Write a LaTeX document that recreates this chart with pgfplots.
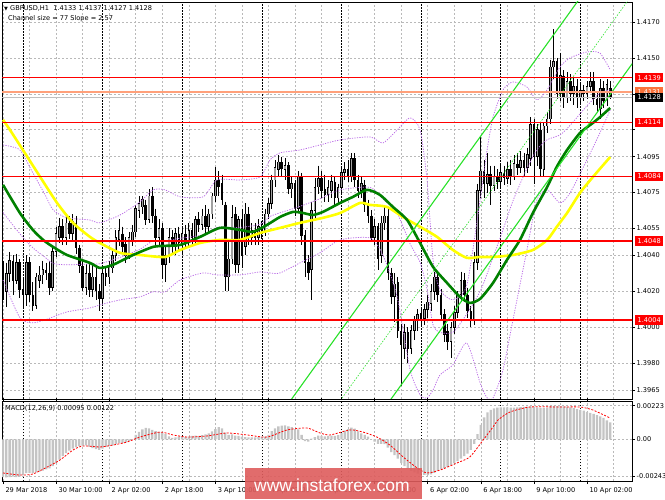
\documentclass[border=0pt]{standalone}
\usepackage{fontspec}
\setmainfont{DejaVu Sans}
\newfontfamily\wmfont{Liberation Sans}
\usepackage{pgfplots}
\usepackage{pgfplotstable}
\pgfplotsset{compat=1.18}

\definecolor{chan}{RGB}{40,225,40}
\definecolor{magreen}{RGB}{0,128,0}
\definecolor{mayellow}{RGB}{255,255,0}
\definecolor{bbviolet}{RGB}{185,105,230}
\definecolor{lvlred}{RGB}{255,0,0}
\definecolor{asksalmon}{RGB}{255,160,122}
\definecolor{askbox}{RGB}{250,115,60}
\definecolor{bidsilver}{RGB}{192,192,192}
\definecolor{bullgray}{RGB}{160,160,160}
\definecolor{gridgray}{RGB}{185,185,185}
\definecolor{histgray}{RGB}{196,196,196}
\definecolor{wmred}{RGB}{222,92,92}

% GBPUSD H1 candles, bar 0 = 29 Mar 18:00
\pgfplotstableread{
i o h l c
0 1.4034 1.4037 1.4015 1.4020
1 1.4020 1.4036 1.4011 1.4030
2 1.4030 1.4042 1.4025 1.4037
3 1.4037 1.4040 1.4018 1.4026
4 1.4026 1.4041 1.4024 1.4036
5 1.4036 1.4038 1.4016 1.4021
6 1.4021 1.4028 1.4010 1.4018
7 1.4018 1.4040 1.4012 1.4036
8 1.4036 1.4039 1.4014 1.4018
9 1.4018 1.4025 1.4009 1.4012
10 1.4012 1.4030 1.4010 1.4028
11 1.4026 1.4034 1.4022 1.4029
12 1.4029 1.4037 1.4024 1.4032
13 1.4032 1.4036 1.4026 1.4030
14 1.4030 1.4037 1.4018 1.4022
15 1.4022 1.4045 1.4020 1.4042
16 1.4042 1.4056 1.4039 1.4052
17 1.4050 1.4061 1.4047 1.4056
18 1.4056 1.4060 1.4046 1.4050
19 1.4050 1.4063 1.4046 1.4058
20 1.4058 1.4062 1.4049 1.4052
21 1.4052 1.4063 1.4048 1.4059
22 1.4058 1.4062 1.4041 1.4044
23 1.4044 1.4046 1.4030 1.4034
24 1.4034 1.4037 1.4020 1.4022
25 1.4022 1.4035 1.4018 1.4030
26 1.4030 1.4036 1.4017 1.4021
27 1.4021 1.4035 1.4017 1.4028
28 1.4028 1.4033 1.4015 1.4020
29 1.4020 1.4024 1.4009 1.4016
30 1.4016 1.4033 1.4012 1.4030
31 1.4030 1.4034 1.4023 1.4028
32 1.4028 1.4037 1.4024 1.4034
33 1.4033 1.4043 1.4030 1.4040
34 1.4040 1.4054 1.4037 1.4050
35 1.4049 1.4060 1.4045 1.4054
36 1.4052 1.4056 1.4041 1.4045
37 1.4046 1.4050 1.4036 1.4040
38 1.4040 1.4053 1.4038 1.4050
39 1.4048 1.4057 1.4045 1.4053
40 1.4053 1.4068 1.4050 1.4066
41 1.4065 1.4073 1.4061 1.4069
42 1.4067 1.4073 1.4063 1.4071
43 1.4068 1.4071 1.4057 1.4060
44 1.4060 1.4077 1.4058 1.4073
45 1.4073 1.4078 1.4058 1.4062
46 1.4062 1.4066 1.4046 1.4050
47 1.4050 1.4060 1.4045 1.4055
48 1.4055 1.4058 1.4027 1.4035
49 1.4035 1.4045 1.4025 1.4040
50 1.4040 1.4055 1.4036 1.4050
51 1.4050 1.4054 1.4040 1.4045
52 1.4045 1.4055 1.4040 1.4052
53 1.4052 1.4056 1.4043 1.4047
54 1.4046 1.4056 1.4040 1.4052
55 1.4052 1.4057 1.4044 1.4048
56 1.4048 1.4058 1.4045 1.4054
57 1.4054 1.4058 1.4046 1.4050
58 1.4050 1.4062 1.4047 1.4060
59 1.4060 1.4064 1.4053 1.4057
60 1.4057 1.4066 1.4054 1.4062
61 1.4062 1.4068 1.4052 1.4056
62 1.4056 1.4066 1.4053 1.4063
63 1.4063 1.4075 1.4060 1.4073
64 1.4073 1.4089 1.4070 1.4082
65 1.4082 1.4087 1.4073 1.4078
66 1.4080 1.4085 1.4068 1.4071
67 1.4068 1.4070 1.4020 1.4028
68 1.4028 1.4048 1.4020 1.4038
69 1.4038 1.4068 1.4035 1.4061
70 1.4063 1.4067 1.4030 1.4035
71 1.4035 1.4062 1.4030 1.4060
72 1.4060 1.4066 1.4033 1.4040
73 1.4045 1.4069 1.4040 1.4063
74 1.4063 1.4067 1.4046 1.4050
75 1.4050 1.4058 1.4046 1.4054
76 1.4054 1.4058 1.4046 1.4050
77 1.4050 1.4060 1.4046 1.4056
78 1.4056 1.4059 1.4049 1.4053
79 1.4054 1.4066 1.4051 1.4063
80 1.4063 1.4072 1.4060 1.4069
81 1.4069 1.4085 1.4066 1.4082
82 1.4082 1.4093 1.4078 1.4089
83 1.4088 1.4096 1.4084 1.4092
84 1.4092 1.4095 1.4084 1.4088
85 1.4088 1.4094 1.4082 1.4090
86 1.4090 1.4092 1.4074 1.4077
87 1.4077 1.4084 1.4072 1.4080
88 1.4080 1.4082 1.4062 1.4066
89 1.4066 1.4087 1.4064 1.4084
90 1.4084 1.4086 1.4046 1.4051
91 1.4051 1.4054 1.4028 1.4036
92 1.4036 1.4040 1.4026 1.4030
93 1.4032 1.4070 1.4015 1.4065
94 1.4065 1.4083 1.4060 1.4078
95 1.4078 1.4090 1.4074 1.4083
96 1.4083 1.4087 1.4072 1.4076
97 1.4077 1.4085 1.4070 1.4074
98 1.4074 1.4082 1.4070 1.4078
99 1.4076 1.4085 1.4072 1.4081
100 1.4081 1.4084 1.4068 1.4072
101 1.4072 1.4080 1.4069 1.4078
102 1.4078 1.4089 1.4075 1.4086
103 1.4086 1.4092 1.4082 1.4088
104 1.4088 1.4093 1.4081 1.4084
105 1.4084 1.4097 1.4081 1.4094
106 1.4094 1.4097 1.4078 1.4082
107 1.4082 1.4085 1.4072 1.4076
108 1.4076 1.4084 1.4072 1.4080
109 1.4079 1.4082 1.4064 1.4068
110 1.4068 1.4071 1.4058 1.4062
111 1.4062 1.4065 1.4048 1.4050
112 1.4050 1.4060 1.4046 1.4056
113 1.4056 1.4058 1.4032 1.4038
114 1.4040 1.4062 1.4036 1.4058
115 1.4058 1.4068 1.4054 1.4062
116 1.4062 1.4066 1.4026 1.4030
117 1.4030 1.4033 1.4013 1.4017
118 1.4017 1.4030 1.4003 1.4024
119 1.4025 1.4028 1.3994 1.3998
120 1.3998 1.4002 1.3967 1.3990
121 1.3988 1.4002 1.3982 1.3997
122 1.3997 1.4000 1.3980 1.3988
123 1.3988 1.4001 1.3985 1.3998
124 1.3998 1.4006 1.3993 1.4004
125 1.4004 1.4010 1.3998 1.4007
126 1.4008 1.4011 1.4000 1.4004
127 1.4005 1.4013 1.4001 1.4010
128 1.4010 1.4018 1.4005 1.4014
129 1.4013 1.4024 1.4009 1.4020
130 1.4020 1.4031 1.4015 1.4028
131 1.4028 1.4030 1.4014 1.4018
132 1.4018 1.4021 1.4004 1.4007
133 1.4007 1.4010 1.3992 1.3996
134 1.3998 1.4002 1.3987 1.3992
135 1.3992 1.4003 1.3983 1.4000
136 1.4000 1.4012 1.3996 1.4008
137 1.4008 1.4020 1.4005 1.4018
138 1.4018 1.4031 1.4014 1.4026
139 1.4026 1.4030 1.4014 1.4018
140 1.4018 1.4022 1.4005 1.4009
141 1.4009 1.4012 1.4000 1.4004
142 1.4004 1.4042 1.4001 1.4036
143 1.4036 1.4080 1.4032 1.4076
144 1.4076 1.4106 1.4072 1.4087
145 1.4087 1.4093 1.4072 1.4080
146 1.4080 1.4097 1.4075 1.4085
147 1.4085 1.4090 1.4068 1.4079
148 1.4079 1.4090 1.4076 1.4084
149 1.4084 1.4088 1.4077 1.4081
150 1.4081 1.4091 1.4077 1.4086
151 1.4086 1.4090 1.4079 1.4083
152 1.4083 1.4092 1.4080 1.4088
153 1.4088 1.4093 1.4079 1.4084
154 1.4084 1.4096 1.4082 1.4091
155 1.4091 1.4097 1.4085 1.4089
156 1.4089 1.4098 1.4086 1.4093
157 1.4093 1.4097 1.4084 1.4089
158 1.4089 1.4100 1.4086 1.4096
159 1.4094 1.4117 1.4090 1.4113
160 1.4113 1.4116 1.4080 1.4095
161 1.4095 1.4113 1.4090 1.4110
162 1.4110 1.4114 1.4084 1.4088
163 1.4088 1.4114 1.4084 1.4112
164 1.4112 1.4120 1.4108 1.4116
165 1.4116 1.4149 1.4113 1.4145
166 1.4145 1.4166 1.4138 1.4148
167 1.4148 1.4150 1.4127 1.4130
168 1.4130 1.4153 1.4126 1.4140
169 1.4140 1.4143 1.4122 1.4128
170 1.4128 1.4142 1.4125 1.4137
171 1.4137 1.4141 1.4126 1.4130
172 1.4130 1.4139 1.4124 1.4134
173 1.4134 1.4138 1.4122 1.4128
174 1.4128 1.4136 1.4125 1.4132
175 1.4132 1.4135 1.4126 1.4130
176 1.4130 1.4137 1.4127 1.4134
177 1.4134 1.4142 1.4131 1.4137
178 1.4137 1.4142 1.4124 1.4127
179 1.4127 1.4131 1.4120 1.4124
180 1.4122 1.4138 1.4116 1.4133
181 1.4133 1.4137 1.4122 1.4126
182 1.4126 1.4138 1.4123 1.4135
183 1.4133 1.4137 1.4127 1.4128
}\candles

% MACD(12,26,9) main line, drawn as histogram
\pgfplotstableread{
i v
0 -0.00250
1 -0.00252
2 -0.00250
3 -0.00248
4 -0.00250
5 -0.00248
6 -0.00238
7 -0.00225
8 -0.00222
9 -0.00225
10 -0.00220
11 -0.00215
12 -0.00208
13 -0.00200
14 -0.00192
15 -0.00178
16 -0.00160
17 -0.00135
18 -0.00112
19 -0.00092
20 -0.00075
21 -0.00062
22 -0.00052
23 -0.00046
24 -0.00042
25 -0.00040
26 -0.00048
27 -0.00058
28 -0.00065
29 -0.00070
30 -0.00062
31 -0.00052
32 -0.00045
33 -0.00040
34 -0.00032
35 -0.00026
36 -0.00024
37 -0.00020
38 -0.00010
39 0.00002
40 0.00030
41 0.00050
42 0.00065
43 0.00075
44 0.00072
45 0.00062
46 0.00055
47 0.00050
48 0.00042
49 0.00035
50 0.00020
51 0.00010
52 0.00012
53 0.00018
54 0.00020
55 0.00015
56 0.00018
57 0.00022
58 0.00025
59 0.00022
60 0.00028
61 0.00032
62 0.00040
63 0.00052
64 0.00068
65 0.00080
66 0.00072
67 0.00045
68 0.00030
69 0.00032
70 0.00025
71 0.00022
72 0.00018
73 0.00015
74 0.00012
75 0.00012
76 0.00013
77 0.00015
78 0.00014
79 0.00018
80 0.00030
81 0.00055
82 0.00072
83 0.00085
84 0.00090
85 0.00092
86 0.00085
87 0.00080
88 0.00068
89 0.00065
90 0.00030
91 -0.00012
92 -0.00015
93 0.00005
94 0.00015
95 0.00025
96 0.00022
97 0.00020
98 0.00022
99 0.00025
100 0.00022
101 0.00028
102 0.00042
103 0.00058
104 0.00068
105 0.00078
106 0.00070
107 0.00052
108 0.00040
109 0.00030
110 0.00018
111 0.00002
112 -0.00015
113 -0.00030
114 -0.00030
115 -0.00032
116 -0.00055
117 -0.00085
118 -0.00105
119 -0.00128
120 -0.00158
121 -0.00178
122 -0.00195
123 -0.00210
124 -0.00220
125 -0.00228
126 -0.00232
127 -0.00236
128 -0.00238
129 -0.00232
130 -0.00222
131 -0.00210
132 -0.00200
133 -0.00192
134 -0.00182
135 -0.00170
136 -0.00158
137 -0.00145
138 -0.00128
139 -0.00112
140 -0.00095
141 -0.00070
142 -0.00030
143 0.00035
144 0.00095
145 0.00145
146 0.00178
147 0.00195
148 0.00205
149 0.00210
150 0.00212
151 0.00212
152 0.00212
153 0.00210
154 0.00210
155 0.00212
156 0.00214
157 0.00215
158 0.00216
159 0.00218
160 0.00215
161 0.00212
162 0.00208
163 0.00208
164 0.00210
165 0.00218
166 0.00222
167 0.00220
168 0.00220
169 0.00218
170 0.00216
171 0.00212
172 0.00206
173 0.00200
174 0.00195
175 0.00190
176 0.00182
177 0.00175
178 0.00168
179 0.00160
180 0.00152
181 0.00142
182 0.00125
183 0.00112
}\macdhist

\pgfplotsset{
  mt4/.style={
    scale only axis, width=630pt,
    xmin=-0.301, xmax=189.57,
    scaled x ticks=false, scaled y ticks=false,
    axis line style={black, line width=0.6pt},
    xtick={0,16,...,176}, minor xtick={8,24,...,184},
    xmajorgrids, xminorgrids, ymajorgrids,
    major grid style={gridgray, dash pattern=on 2pt off 2pt, line width=0.5pt},
    minor grid style={gridgray, dash pattern=on 2pt off 2pt, line width=0.5pt},
    ytick pos=right, yticklabel pos=right,
    tick align=outside, major tick length=3pt, minor tick length=0pt,
    tick style={black, line width=0.5pt},
    ticklabel style={font=\fontsize{6.6}{7}\selectfont},
    yticklabel style={anchor=west, inner sep=0pt, xshift=1.5pt},
    clip mode=individual,
    extra x ticks={6,30,54,78,102,126,150,174},
    extra x tick labels={},
    extra x tick style={xmajorgrids=true, major tick length=0pt,
      major grid style={black, dash pattern=on 1.5pt off 1.5pt, line width=0.6pt}},
  },
  candle/.style={draw=none, mark=none, forget plot,
    error bars/.cd, y dir=minus, y explicit, error mark=none},
}
\tikzset{
  lbl/.style={anchor=west, xshift=3pt, text=white, inner sep=0pt,
    minimum height=9.5pt, minimum width=28pt, font=\fontsize{6.6}{7}\selectfont},
}

\begin{document}
\begin{tikzpicture}
\useasboundingbox (0,0) rectangle (665pt,499pt);

% ---------- price panel ----------
\begin{axis}[mt4, at={(2pt,100pt)}, anchor=south west, height=397pt,
  ymin=1.395998, ymax=1.418114,
  ytick={1.3965,1.3980,1.4000,1.4020,1.4040,1.4055,1.4075,1.4095,1.4110,1.4130,1.4150,1.4170},
  yticklabels={1.3965,1.3980,1.4000,1.4020,1.4040,1.4055,1.4075,1.4095,,,1.4150,1.4170},
  xticklabels={}, xtick style={draw=none},
]
% candle wicks
\addplot[candle, error bar style={draw=black, line width=0.75pt}]
  table[x=i, y=h, y error minus expr={\thisrow{h}-\thisrow{l}}] {\candles};
% bearish bodies
\addplot[candle, error bar style={draw=black, line width=2.6pt}]
  table[x=i, y expr={\thisrow{c}<\thisrow{o} ? \thisrow{o}+0.00001 : nan},
        y error minus expr={\thisrow{o}-\thisrow{c}+0.00002}] {\candles};
% bullish bodies: outline, then fill
\addplot[candle, error bar style={draw=black, line width=2.6pt}]
  table[x=i, y expr={\thisrow{c}>=\thisrow{o} ? \thisrow{c}+0.00002 : nan},
        y error minus expr={\thisrow{c}-\thisrow{o}+0.00004}] {\candles};
\addplot[candle, error bar style={draw=bullgray, line width=1.2pt}]
  table[x=i, y expr={\thisrow{c}-\thisrow{o}>0.00010 ? \thisrow{c}-0.00002 : nan},
        y error minus expr={\thisrow{c}-\thisrow{o}-0.00004}] {\candles};

% Bollinger bands (upper, middle, lower)
\addplot[bbviolet, line width=0.75pt, dash pattern=on 1.2pt off 1.3pt, smooth, tension=0.4] coordinates {
(0,1.41015)(5.1,1.40987)(9.0,1.40859)(12.7,1.40737)(15.1,1.40653)(19.3,1.40609)(26.2,1.40597)(29.2,1.40581)
(35.3,1.40625)(41.3,1.40698)(45.2,1.40765)(48.8,1.40765)(53.4,1.40726)(60.3,1.40726)(64.5,1.40820)(71.4,1.40820)
(77.5,1.40837)(80.5,1.40932)(83.5,1.40971)(89.5,1.40987)(95.5,1.41015)(101.6,1.41043)(110.6,1.41060)(114.5,1.41026)
(118.8,1.41099)(122.7,1.41166)(125.7,1.41099)(127.8,1.40820)(129.6,1.40375)(131.7,1.40208)(135.6,1.40152)(139.8,1.40235)
(143.8,1.40709)(145.9,1.40987)(147.7,1.41171)(150.7,1.41322)(153.7,1.41366)(157.9,1.41338)(160.9,1.41266)(164.0,1.41322)
(167.9,1.41450)(170.9,1.41500)(176.0,1.41533)(179.9,1.41527)(183,1.41433)};
\addplot[bbviolet, line width=0.75pt, dash pattern=on 1.2pt off 1.3pt, smooth, tension=0.4] coordinates {
(0,1.40639)(5.1,1.40520)(9.0,1.40442)(12.7,1.40389)(15.1,1.40355)(19.3,1.40347)(26.2,1.40352)(29.2,1.40353)
(35.3,1.40389)(41.3,1.40434)(45.2,1.40481)(48.8,1.40481)(53.4,1.40495)(60.3,1.40514)(64.5,1.40556)(71.4,1.40556)
(77.5,1.40573)(80.5,1.40617)(83.5,1.40637)(89.5,1.40673)(95.5,1.40715)(101.6,1.40765)(110.6,1.40779)(114.5,1.40714)
(118.8,1.40634)(122.7,1.40464)(125.7,1.40361)(127.8,1.40213)(129.6,1.40013)(131.7,1.39971)(135.6,1.39971)(139.8,1.40074)
(143.8,1.40199)(145.9,1.40297)(147.7,1.40389)(150.7,1.40542)(153.7,1.40704)(157.9,1.40884)(160.9,1.40988)(164.0,1.41044)
(167.9,1.41071)(170.9,1.41124)(176.0,1.41233)(179.9,1.41305)(183,1.41322)};
\addplot[bbviolet, line width=0.75pt, dash pattern=on 1.2pt off 1.3pt, smooth, tension=0.4] coordinates {
(0,1.40263)(5.1,1.40052)(9.0,1.40024)(12.7,1.40041)(15.1,1.40057)(19.3,1.40085)(26.2,1.40107)(29.2,1.40124)
(35.3,1.40152)(41.3,1.40169)(45.2,1.40197)(48.8,1.40197)(53.4,1.40263)(60.3,1.40302)(64.5,1.40291)(71.4,1.40291)
(77.5,1.40308)(80.5,1.40302)(83.5,1.40302)(89.5,1.40358)(95.5,1.40414)(101.6,1.40486)(110.6,1.40497)(114.5,1.40402)
(118.8,1.40169)(122.7,1.39762)(125.7,1.39623)(127.8,1.39606)(129.6,1.39650)(131.7,1.39734)(135.6,1.39790)(139.8,1.39912)
(143.8,1.39689)(145.9,1.39606)(147.7,1.39606)(150.7,1.39762)(153.7,1.40041)(157.9,1.40430)(160.9,1.40709)(164.0,1.40765)
(167.9,1.40692)(170.9,1.40748)(176.0,1.40932)(179.9,1.41082)(183,1.41210)};

% moving averages
\addplot[mayellow, line width=2.6pt, smooth, tension=0.4] coordinates {
(0,1.41155)(2.1,1.41099)(6.0,1.40987)(11.2,1.40837)(16.3,1.40692)(21.1,1.40581)(26.2,1.40503)(29.2,1.40469)
(35.3,1.40414)(41.3,1.40402)(48.8,1.40391)(53.4,1.40430)(59.4,1.40469)(65.4,1.40486)(71.4,1.40486)(77.5,1.40525)
(83.5,1.40553)(89.5,1.40581)(96.4,1.40609)(101.6,1.40636)(107.6,1.40692)(110.6,1.40681)(115.7,1.40670)(120.5,1.40614)
(125.7,1.40559)(130.8,1.40503)(135.6,1.40430)(139.8,1.40386)(143.8,1.40391)(147.7,1.40391)(153.7,1.40402)(159.7,1.40430)
(164.0,1.40486)(166.9,1.40559)(170.0,1.40636)(173.9,1.40748)(177.8,1.40837)(183,1.40948)};
\addplot[magreen, line width=2.6pt, smooth, tension=0.4] coordinates {
(0,1.40793)(5.1,1.40636)(9.0,1.40542)(12.1,1.40486)(15.1,1.40447)(19.3,1.40402)(26.2,1.40358)(29.2,1.40330)
(33.1,1.40347)(39.2,1.40402)(45.2,1.40447)(48.8,1.40453)(53.4,1.40458)(59.4,1.40503)(65.4,1.40553)(71.4,1.40542)
(75.3,1.40531)(79.6,1.40570)(83.5,1.40614)(87.4,1.40642)(90.4,1.40636)(93.4,1.40625)(96.4,1.40642)(101.6,1.40692)
(105.5,1.40726)(109.7,1.40765)(113.6,1.40737)(117.5,1.40670)(121.8,1.40597)(125.7,1.40469)(129.6,1.40336)(133.8,1.40247)
(137.7,1.40169)(140.7,1.40135)(143.8,1.40158)(147.7,1.40247)(151.9,1.40375)(155.8,1.40486)(159.7,1.40636)(164.0,1.40781)
(166.9,1.40893)(170.0,1.40987)(173.9,1.41082)(177.8,1.41138)(180.0,1.41171)(183,1.41221)};

% regression channel (size 77, slope 2.57)
\addplot[chan, line width=1.1pt] coordinates {(80,1.39420)(190,1.42247)};
\addplot[chan, line width=1.1pt] coordinates {(80,1.38650)(190,1.41477)};
\addplot[chan, line width=0.6pt, dash pattern=on 1.5pt off 1.5pt] coordinates {(80,1.39035)(190,1.41862)};

% horizontal levels
\addplot[bidsilver, line width=0.8pt] coordinates {(-1,1.4128)(190,1.4128)};
\addplot[asksalmon, line width=1.6pt] coordinates {(-1,1.4131)(190,1.4131)};
\addplot[lvlred, line width=1.5pt] coordinates {(-1,1.4139)(190,1.4139)};
\addplot[lvlred, line width=1.5pt] coordinates {(-1,1.4114)(190,1.4114)};
\addplot[lvlred, line width=1.5pt] coordinates {(-1,1.4084)(190,1.4084)};
\addplot[lvlred, line width=1.5pt] coordinates {(-1,1.4048)(190,1.4048)};
\addplot[lvlred, line width=1.5pt] coordinates {(-1,1.4004)(190,1.4004)};

% price labels on the right scale
\node[lbl, fill=lvlred] at (axis cs:189.57,1.4139) {1.4139};
\node[lbl, fill=askbox] at (axis cs:189.57,1.4131) {1.4131};
\node[lbl, fill=black] at (axis cs:189.57,1.4128) {1.4128};
\node[lbl, fill=lvlred] at (axis cs:189.57,1.4114) {1.4114};
\node[lbl, fill=lvlred] at (axis cs:189.57,1.4084) {1.4084};
\node[lbl, fill=lvlred] at (axis cs:189.57,1.4048) {1.4048};
\node[lbl, fill=lvlred] at (axis cs:189.57,1.4004) {1.4004};
\end{axis}

% ---------- MACD panel ----------
\begin{axis}[mt4, at={(2pt,18pt)}, anchor=south west, height=80pt,
  ymin=-0.002764, ymax=0.002539,
  ytick={-0.00243,0,0.00223},
  yticklabels={-0.00243,0.00,0.00223},
  xticklabels={29 Mar 2018,30 Mar 10:00,2 Apr 02:00,2 Apr 18:00,3 Apr 10:00,4 Apr 02:00,4 Apr 18:00,5 Apr 10:00,6 Apr 02:00,6 Apr 18:00,9 Apr 10:00,10 Apr 02:00},
  xticklabel style={anchor=north west, xshift=-1pt},
]
\addplot[ybar, bar width=2.3pt, bar shift=0pt, fill=histgray, draw=none]
  table[x=i, y=v] {\macdhist};
\addplot[red, line width=0.8pt, dash pattern=on 2pt off 1.5pt, smooth, tension=0.4] coordinates {
(0,-0.00223)(5.1,-0.00237)(9.0,-0.00230)(13.3,-0.00184)(17.2,-0.00137)(21.1,-0.00071)(24.1,-0.00044)(29.2,-0.00051)
(33.2,-0.00038)(37.4,-0.00018)(41.3,0.00015)(47.3,0.00048)(51.2,0.00029)(55.5,0.00015)(61.5,0.00022)(67.5,0.00042)
(73.5,0.00029)(79.6,0.00015)(85.6,0.00062)(91.6,0.00075)(95.5,0.00042)(98.6,0.00029)(104.6,0.00062)(108.5,0.00048)
(112.7,0.00015)(116.6,-0.00038)(120.6,-0.00117)(124.8,-0.00190)(127.8,-0.00223)(131.7,-0.00204)(136.8,-0.00157)(140.7,-0.00117)
(144.7,-0.00005)(147.7,0.00082)(149.2,0.00128)(152.8,0.00181)(158.8,0.00214)(167.9,0.00214)(173.9,0.00214)(177.8,0.00194)
(183,0.00141)};
\end{axis}

% header texts
\node[anchor=west, inner sep=0pt, font=\fontsize{6.6}{7}\selectfont] at (4pt,491pt)
  {{\fontsize{5}{6}\selectfont ▼}\ GBPUSD,H1\ \ 1.4133 1.4137 1.4127 1.4128};
\node[anchor=west, inner sep=0pt, font=\fontsize{6.6}{7}\selectfont] at (8pt,480pt)
  {Channel size = 77 Slope = 2.57};
\node[anchor=west, inner sep=0pt, font=\fontsize{6.6}{7}\selectfont] at (5pt,91pt)
  {MACD(12,26,9) 0.00095 0.00122};

% watermark
\fill[wmred, opacity=0.9] (245pt,0pt) rectangle (422pt,31pt);
\node[text=white, inner sep=0pt, font=\wmfont\fontsize{17.5}{18}\selectfont] at (332pt,14pt) {www.instaforex.com};
\end{tikzpicture}
\end{document}
